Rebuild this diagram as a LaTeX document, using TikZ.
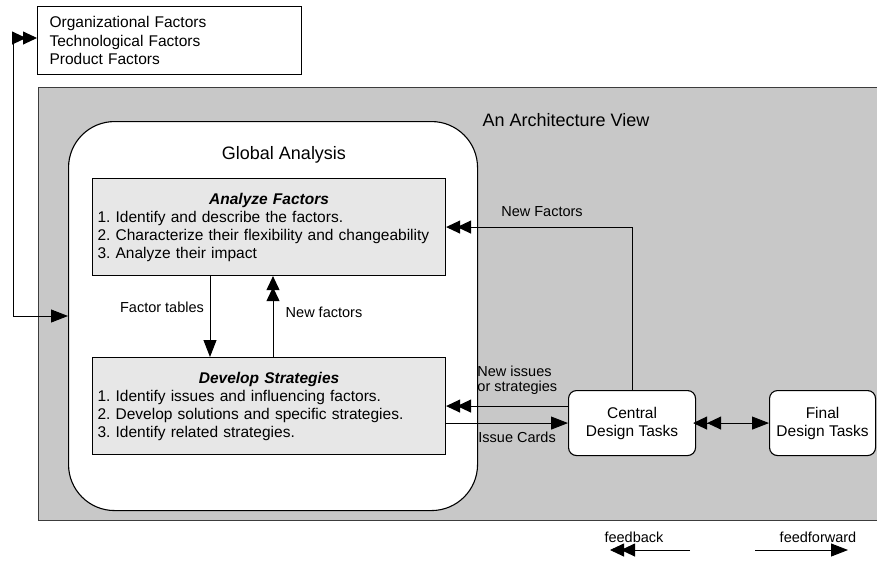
\documentclass[tikz,border=0pt]{standalone}
\usepackage{fontspec}
\setmainfont{Liberation Sans}
\usetikzlibrary{arrows.meta}
\definecolor{archgray}{RGB}{200,200,200}
\definecolor{boxgray}{RGB}{231,231,231}
\definecolor{edgegray}{RGB}{60,60,60}
\frenchspacing
\begin{document}
\begin{tikzpicture}[x=1pt,y=-1pt,
  line width=0.9pt,
  ff/.style={-{Triangle[length=17pt,width=13pt]}},
  fb/.style={-{Triangle[length=14pt,width=13pt,sep=-3pt]Triangle[length=14pt,width=13pt]}},
  fbff/.style={{Triangle[length=14pt,width=13pt,sep=-3pt]Triangle[length=14pt,width=13pt]}-{Triangle[length=17pt,width=13pt]}},
  lbl/.style={font=\fontsize{14.5}{15}\selectfont, inner sep=0pt},
  ttl/.style={font=\fontsize{18}{20}\selectfont, inner sep=0pt},
  taskbox/.style={draw, line width=1.1pt, fill=boxgray, minimum width=353pt, minimum height=97pt,
    anchor=north west, align=left, font=\fontsize{15.5}{18}\selectfont, inner xsep=5pt, text width=343pt},
  roundbox/.style={draw, line width=1.1pt, fill=white, rounded corners=8pt, minimum width=127pt,
    minimum height=65pt, anchor=north west, align=center, font=\fontsize{15.5}{18}\selectfont, inner sep=0pt}
]
\useasboundingbox (0,0) rectangle (877,560);

% factors box
\node[draw, line width=1.1pt, minimum width=257pt, minimum height=68pt, anchor=north west,
  align=left, text width=240pt, inner xsep=12pt, font=\fontsize{15.5}{18.5}\selectfont]
  (fac) at (37,6) {Organizational Factors\\Technological Factors\\Product Factors};

% architecture view background
\node[draw=edgegray, line width=1.2pt, fill=archgray, minimum width=842pt, minimum height=433pt,
  anchor=north west, inner sep=0pt] (arch) at (38,87) {};
\node[ttl] (archt) at (566,120) {An Architecture View};

% global analysis
\node[draw, line width=1.1pt, fill=white, rounded corners=46pt, minimum width=409pt,
  minimum height=389pt, anchor=north west, inner sep=0pt] (ga) at (68,121) {};
\node[ttl] (gat) at (284,155) {Global Analysis};

% task boxes
\node[taskbox] (af) at (92,178) {\makebox[343pt][c]{\textbf{\textit{Analyze Factors}}}\\
  1. Identify and describe the factors.\\
  2. Characterize their flexibility and changeability\\
  3. Analyze their impact};
\node[taskbox] (ds) at (92,357) {\makebox[343pt][c]{\textbf{\textit{Develop Strategies}}}\\
  1. Identify issues and influencing factors.\\
  2. Develop solutions and specific strategies.\\
  3. Identify related strategies.};

\node[roundbox] (cd) at (568,390) {Central\\Design Tasks};
\node[roundbox, minimum width=106pt] (fd) at (769,390) {Final\\Design Tasks};

% connectors inside global analysis
\draw[ff] ([xshift=118pt]af.south west) -- ([xshift=118pt]ds.north west);
\draw[fb] ([xshift=181pt]ds.north west) -- ([xshift=181pt]af.south west);
\node[lbl] (ftl) at (162,307) {Factor tables};
\node[lbl] (nfl) at (324,312) {New factors};

% central design connectors
\draw[fb] (cd.north) |- (af.east);
\node[lbl] (nfl2) at (542,212) {New Factors};
\draw[fb] (cd.west |- ds.east) -- (ds.east);
\node[lbl, anchor=west, align=left, font=\fontsize{14.5}{15.5}\selectfont] (nil) at (477,380) {New issues\\or strategies};
\draw[ff] (ds.east |- cd.west) -- (cd.west);
\node[lbl, anchor=west] (icl) at (478,437) {Issue Cards};
\draw[fbff] (cd.east) -- (fd.west);

% left feedback loop
\coordinate (lc1) at (13,316);
\coordinate (lc2) at (13,38);
\draw[ff] (lc1) -- (ga.west |- lc1);
\draw[fb] (lc1) -- (lc2) -- (fac.west |- lc2);

% legend
\node[lbl] (fbl) at (634,537) {feedback};
\node[lbl] (ffl) at (818,537) {feedforward};
\coordinate (fb1) at (690,550);
\coordinate (fb2) at (610,550);
\coordinate (ff1) at (755,550);
\coordinate (ff2) at (848,550);
\draw[fb] (fb1) -- (fb2);
\draw[ff] (ff1) -- (ff2);
\end{tikzpicture}
\end{document}
